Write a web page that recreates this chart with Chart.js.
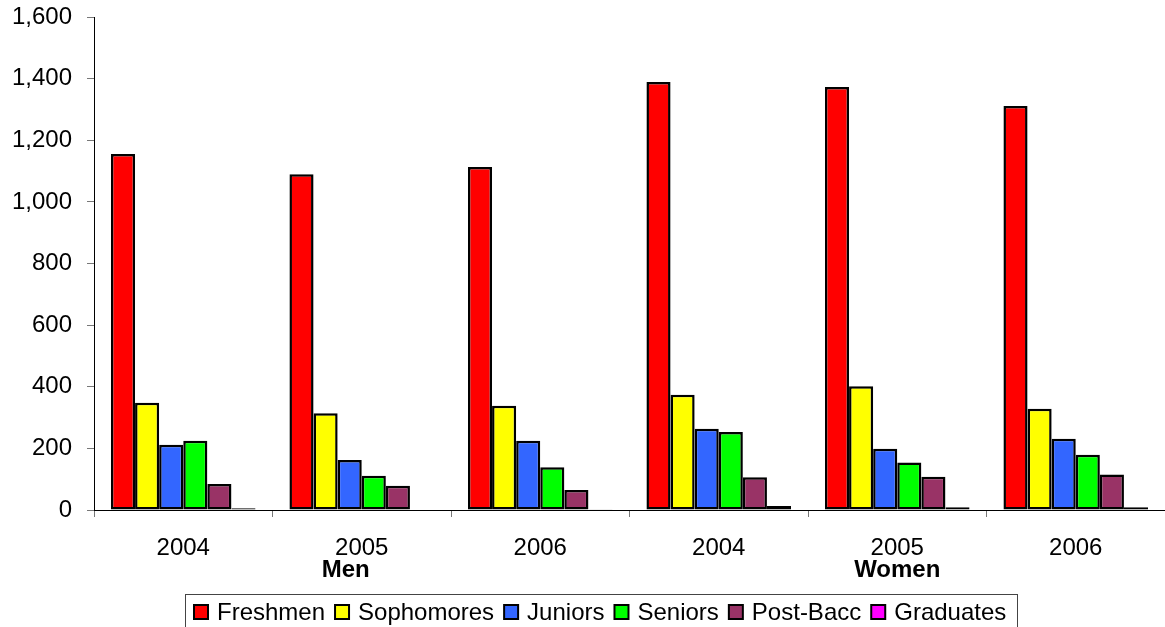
<!DOCTYPE html>
<html>
<head>
<meta charset="utf-8">
<script src="https://cdn.jsdelivr.net/npm/chart.js@4.4.1/dist/chart.umd.min.js"></script>
<style>
  html, body { margin: 0; padding: 0; background: #fff; }
  #wrap { width: 1165px; height: 627px; position: relative; }
</style>
</head>
<body>
<div id="wrap"><canvas id="c"></canvas></div>
<script>
// ---- data ----
const categories = ['2004', '2005', '2006', '2004', '2005', '2006'];
const groups = ['Men', 'Women'];
const freshmen   = [1155, 1090, 1113, 1389, 1373, 1311];
const sophomores = [348, 314, 338, 374, 402, 329];
const juniors    = [212, 162, 225, 264, 199, 231];
const seniors    = [225, 111, 139, 253, 154, 179];
const postBacc   = [84, 79, 65, 106, 108, 115];
const graduates  = [6, 2, 1, 13, 9, 9];
const yTicks = [0, 200, 400, 600, 800, 1000, 1200, 1400, 1600];

const seriesNames = ['Freshmen', 'Sophomores', 'Juniors', 'Seniors', 'Post-Bacc', 'Graduates'];
const seriesData = [freshmen, sophomores, juniors, seniors, postBacc, graduates];
const seriesColors = ['#FF0000', '#FFFF00', '#3366FF', '#00FF00', '#993366', '#FF00FF'];

const FONT = '"Liberation Sans", Arial, sans-serif';

const groupLabelPlugin = {
  id: 'groupLabels',
  afterDraw(chart) {
    const ctx = chart.ctx;
    const x = chart.scales.x;
    const area = chart.chartArea;
    ctx.save();
    ctx.font = 'bold 24px ' + FONT;
    ctx.fillStyle = '#000';
    ctx.textAlign = 'center';
    ctx.textBaseline = 'middle';
    const per = categories.length / groups.length;
    const dx = [-16, 0];
    groups.forEach((g, i) => {
      const mid = (x.getPixelForValue(i * per) + x.getPixelForValue(i * per + per - 1)) / 2;
      ctx.fillText(g, mid + dx[i], area.bottom + 60);
    });

    // legend
    ctx.font = '24px ' + FONT;
    ctx.textAlign = 'left';
    const boxLeft = 185, boxTop = 594;
    const padL = 8, padR = 11, mk = 14, gapT = 8, gapI = 9;
    let cx = boxLeft + padL;
    const cy = 612;
    seriesNames.forEach((name, i) => {
      ctx.fillStyle = seriesColors[i];
      ctx.fillRect(cx + 1, cy - mk / 2, mk, mk);
      ctx.lineWidth = 2;
      ctx.strokeStyle = '#000';
      ctx.strokeRect(cx + 1, cy - mk / 2, mk, mk);
      cx += mk + 2 + gapT;
      ctx.fillStyle = '#000';
      ctx.fillText(name, cx, cy + 1);
      cx += ctx.measureText(name).width;
      if (i < seriesNames.length - 1) cx += gapI;
    });
    cx += padR;
    ctx.lineWidth = 1;
    ctx.strokeStyle = '#444';
    ctx.strokeRect(boxLeft + 0.5, boxTop + 0.5, Math.round(cx - boxLeft), 60);
    ctx.restore();
  }
};

new Chart(document.getElementById('c'), {
  type: 'bar',
  data: {
    labels: categories,
    datasets: seriesNames.map((n, i) => ({
      label: n,
      data: seriesData[i],
      backgroundColor: seriesColors[i],
      borderColor: '#000',
      borderWidth: 2.5,
      borderSkipped: false,
      categoryPercentage: 0.81,
      barPercentage: 1.0
    }))
  },
  options: {
    responsive: true,
    maintainAspectRatio: false,
    animation: false,
    layout: { padding: { left: 12, right: 0, top: 0, bottom: 33 } },
    plugins: {
      legend: { display: false },
      tooltip: { enabled: false }
    },
    scales: {
      x: {
        offset: true,
        grid: { display: true, drawOnChartArea: false, drawTicks: true, tickLength: 7, color: '#777', offset: true },
        border: { display: true, color: '#000', width: 1 },
        ticks: { color: '#000', font: { family: FONT, size: 24 }, padding: 17, maxRotation: 0, autoSkip: false },
        afterFit(scale) { scale.height = 84; scale.paddingLeft = 0; scale.paddingRight = 0; }
      },
      y: {
        min: 0,
        max: 1600,
        afterBuildTicks(scale) { scale.ticks = yTicks.map(v => ({ value: v })); },
        grid: { display: true, drawOnChartArea: false, drawTicks: true, tickLength: 7, color: '#777' },
        border: { display: true, color: '#000', width: 1 },
        ticks: {
          color: '#000', font: { family: FONT, size: 24 }, padding: 15,
          callback: v => Number(v).toLocaleString('en-US')
        },
        afterFit(scale) { scale.width = 82; scale.paddingTop = 17; scale.paddingBottom = 0; }
      }
    }
  },
  plugins: [groupLabelPlugin]
});
</script>
</body>
</html>
